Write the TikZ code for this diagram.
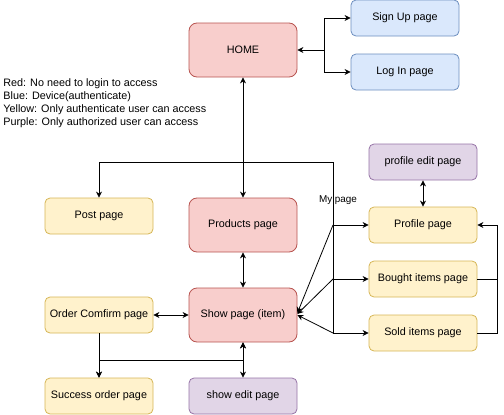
\documentclass[tikz,border=0pt]{standalone}
\usepackage{fontspec}
\setmainfont{Liberation Sans}
\usetikzlibrary{positioning,arrows.meta}
\definecolor{freeFill}{HTML}{F8CECC}
\definecolor{freeLine}{HTML}{B85450}
\definecolor{authFill}{HTML}{DAE8FC}
\definecolor{authLine}{HTML}{6C8EBF}
\definecolor{userFill}{HTML}{FFF2CC}
\definecolor{userLine}{HTML}{D6B656}
\definecolor{adminFill}{HTML}{E1D5E7}
\definecolor{adminLine}{HTML}{9673A6}

\begin{document}
\begin{tikzpicture}[
    x=1pt, y=-1pt,
    line width=0.8pt,
    >={Stealth[length=6pt,width=6pt]},
    page/.style={%
      draw,
      rectangle,
      rounded corners=5pt,
      minimum width=108pt,
      minimum height=36pt,
      inner sep=0pt,
      font=\fontsize{10.8}{13}\selectfont,
    },
    big/.style={minimum height=54pt, rounded corners=8pt},
    free/.style={fill=freeFill, draw=freeLine},
    auth/.style={fill=authFill, draw=authLine},
    user/.style={fill=userFill, draw=userLine},
    admin/.style={fill=adminFill, draw=adminLine},
  ]
    \useasboundingbox (0,0) rectangle (504,415);

    \node [page,free,big] (home) at (243,50) {HOME};
    \path (home) ++(162,-32) node [page,auth] (signup) {Sign Up page};
    \path (home) ++(162,22) node [page,auth] (login) {Log In page};
    \path (home) ++(0,175) node [page,free,big] (products) {Products page};
    \path (products) ++(0,90) node [page,free,big] (show) {Show page (item)};
    \path (show) ++(0,81) node [page,admin] (showedit) {show edit page};
    \path (show) ++(-144,0) node [page,user] (order) {Order Comfirm page};
    \path (order) ++(0,81) node [page,user] (success) {Success order page};
    \path (products) ++(-144,-9) node [page,user] (post) {Post page};
    \path (products) ++(180,0) node [page,user] (profile) {Profile page};
    \path (profile) ++(0,-63) node [page,admin] (pedit) {profile edit page};
    \path (profile) ++(0,54) node [page,user] (bought) {Bought items page};
    \path (bought) ++(0,54) node [page,user] (sold) {Sold items page};

    \node [anchor=north west, align=left, inner sep=0pt,
      font=\fontsize{10.8}{13}\selectfont] (legend) at (3,78)
      {Red: No need to login to access\\
       Blue: Device(authenticate)\\
       Yellow: Only authenticate user can access\\
       Purple: Only authorized user can access};

    \draw [<-] (home.east) -- ++(27,0) coordinate (fork);
    \draw [->] (fork) |- (signup.west);
    \draw [->] (fork) |- (login.west);

    \draw [<->] (home) -- (products);
    \coordinate (mine) at (333,162);
    \draw [->] (mine) -| (post.north);
    \draw (mine) -- (mine |- sold.west);
    \node [fill=white, inner sep=1pt, font=\fontsize{9.9}{12}\selectfont]
      (mylabel) at (338,200) {My page};
    \draw [->] (mine) |- (profile.west);
    \draw [->] (mine) |- (bought.west);
    \draw [->] (mine) |- (sold.west);

    \draw [->] (mine |- profile.west) -- ([yshift=2pt]show.east);
    \draw [->] (mine |- bought.west) -- ([yshift=1pt]show.east);
    \draw [->] (mine |- sold.west) -- (show.east);

    \draw [<->] (pedit) -- (profile);
    \draw [->] (bought.east) -- ++(20,0) |- (profile.east);
    \draw (sold.east) -- ++(20,0) |- (bought.east);

    \draw [<->] (products) -- (show);
    \draw [<->] (order) -- (show);
    \draw [->] (order) -- (success);
    \draw [<->] (show.south) -- ++(0,18) -| (success.north);
    \draw [<->] (show) -- (showedit);
\end{tikzpicture}
\end{document}
